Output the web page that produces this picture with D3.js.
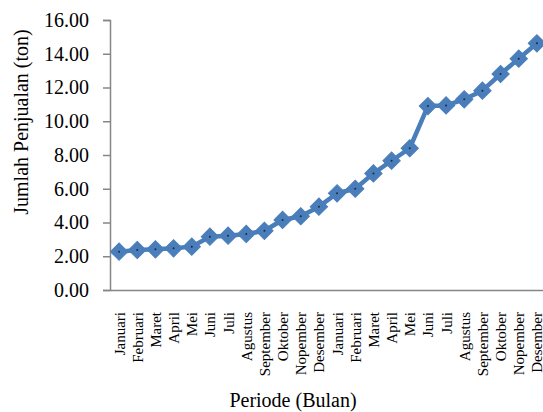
<!DOCTYPE html>
<html>
<head>
<meta charset="utf-8">
<script src="https://cdn.jsdelivr.net/npm/d3@7/dist/d3.min.js"></script>
<style>
  html, body { margin: 0; padding: 0; background: #fff; }
  svg { display: block; font-family: "Liberation Serif", "Times New Roman", serif; }
</style>
</head>
<body>
<svg id="chart" width="543" height="412"></svg>
<script>
const months = ["Januari","Februari","Maret","April","Mei","Juni","Juli","Agustus","September","Oktober","Nopember","Desember",
                "Januari","Februari","Maret","April","Mei","Juni","Juli","Agustus","September","Oktober","Nopember","Desember"];
const sales = [2.27, 2.37, 2.41, 2.47, 2.57, 3.16, 3.22, 3.32, 3.51, 4.15, 4.37, 4.94,
               5.73, 6.00, 6.91, 7.66, 8.40, 10.90, 10.94, 11.30, 11.81, 12.80, 13.71, 14.62];
const yTicks = [0, 2, 4, 6, 8, 10, 12, 14, 16];
const yTitle = "Jumlah Penjualan (ton)";
const xTitle = "Periode (Bulan)";

const svg = d3.select("#chart");
const axisColor = "#868686";
const lineColor = "#4a7ebb";

const idx = d3.range(months.length);
const x = d3.scalePoint().domain(idx).range([110, 546]).padding(0.5);
const y = d3.scaleLinear().domain([0, 16]).range([290, 20]);

// Y axis
const yAxis = d3.axisLeft(y).tickValues(yTicks).tickSize(7).tickPadding(14)
  .tickFormat(d3.format(".2f"));
const gy = svg.append("g").attr("transform", "translate(110,0)").call(yAxis);
gy.select(".domain").attr("stroke", axisColor).attr("stroke-width", 1.5);
gy.selectAll(".tick line").attr("stroke", axisColor).attr("stroke-width", 1.5);
gy.selectAll(".tick text").attr("fill", "#000").style("font-size", "20px")
  .style("font-family", "'Liberation Serif', 'Times New Roman', serif");

// X axis
const xAxis = d3.axisBottom(x).tickSize(0).tickPadding(0).tickFormat(i => months[i]);
const gx = svg.append("g").attr("transform", "translate(0,290)").call(xAxis);
gx.select(".domain").attr("stroke", axisColor).attr("stroke-width", 1.5);
gx.selectAll(".tick text")
  .attr("fill", "#000")
  .style("font-size", "15px")
  .style("font-family", "'Liberation Serif', 'Times New Roman', serif")
  .attr("text-anchor", "end")
  .attr("transform", "rotate(-90)")
  .attr("x", -22)
  .attr("y", 0)
  .attr("dy", "0.33em");

// Line
const line = d3.line().x((d, i) => x(i)).y(d => y(d));
svg.append("path").datum(sales)
  .attr("d", line)
  .attr("fill", "none")
  .attr("stroke", lineColor)
  .attr("stroke-width", 4.5)
  .attr("stroke-linejoin", "round");

// Markers
const sym = d3.symbol().type(d3.symbolSquare).size(150);
const mk = svg.append("g").selectAll("g").data(sales).join("g")
  .attr("transform", (d, i) => `translate(${x(i)},${y(d)})`);
mk.append("path").attr("d", sym).attr("transform", "rotate(45)")
  .attr("fill", lineColor).attr("stroke", lineColor).attr("stroke-width", 1);
mk.append("circle").attr("r", 1).attr("fill", "#1a2a40");

// Titles
svg.append("text")
  .attr("transform", "translate(28,122) rotate(-90)")
  .attr("text-anchor", "middle")
  .style("font-size", "20px")
  .text(yTitle);
svg.append("text")
  .attr("x", 293).attr("y", 407)
  .attr("text-anchor", "middle")
  .style("font-size", "20px")
  .text(xTitle);
</script>
</body>
</html>
